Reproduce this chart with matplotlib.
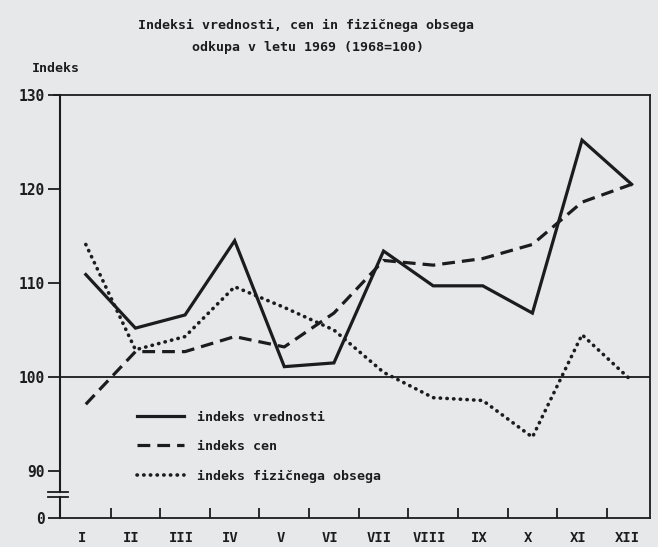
import matplotlib
matplotlib.use("Agg")
from matplotlib import pyplot as plt
import numpy as np

# Indeksi odkupa 1969 (1968=100), odčitano s slike
meseci = ['I', 'II', 'III', 'IV', 'V', 'VI', 'VII', 'VIII', 'IX', 'X', 'XI', 'XII']
vrednost = [110.9, 105.2, 106.6, 114.5, 101.1, 101.5, 113.4, 109.7, 109.7, 106.8, 125.2, 120.5]
cene = [97.1, 102.7, 102.7, 104.3, 103.2, 106.8, 112.4, 111.9, 112.6, 114.1, 118.6, 120.5]
obseg = [114.1, 102.9, 104.3, 109.6, 107.4, 105.0, 100.5, 97.8, 97.5, 93.6, 104.5, 99.6]

ytick_pos = [85, 90, 100, 110, 120, 130]
ytick_lab = ['0', '90', '100', '110', '120', '130']

bg = '#e7e8ea'
ink = '#1c1c1c'
plt.rcParams['font.family'] = ['DejaVu Sans Mono']
plt.rcParams['font.weight'] = 'bold'

fig = plt.figure(figsize=(6.58, 5.47), dpi=100, facecolor=bg)
ax = fig.add_axes([60 / 658, 29 / 547, 590 / 658, 423 / 547])
ax.set_facecolor(bg)

x = np.arange(len(meseci))
ax.plot(x, vrednost, color=ink, lw=2.3, solid_joinstyle='miter', label='indeks vrednosti')
ax.plot(x, cene, color=ink, lw=2.3, dashes=(4, 2.2), label='indeks cen')
ax.plot(x, obseg, color=ink, lw=2.6, linestyle=(0, (0.1, 1.75)),
        dash_capstyle='round', label='indeks fizičnega obsega')

ax.axhline(100, color=ink, lw=1.3)

ax.set_xlim(-0.52, 11.37)
ax.set_ylim(85, 130)

# prekinjena os y
ax.spines['left'].set_visible(False)
for s in ['top', 'right', 'bottom']:
    ax.spines[s].set_linewidth(1.3)
    ax.spines[s].set_color(ink)
tr = ax.get_yaxis_transform()
ax.plot([0, 0], [87.8, 130], color=ink, lw=1.5, transform=tr, clip_on=False)
ax.plot([0, 0], [85, 87.2], color=ink, lw=1.5, transform=tr, clip_on=False)
ax.plot([-0.01, 0], [130, 130], color=ink, lw=1.3, transform=tr, clip_on=False)
for yb in [87.2, 87.8]:
    ax.plot([-0.02, 0.014], [yb, yb], color=ink, lw=1.3, transform=tr, clip_on=False)

ax.set_yticks(ytick_pos)
ax.set_yticklabels(ytick_lab)
ax.tick_params(axis='y', direction='out', length=9, width=1.3, color=ink,
               labelsize=10.5, pad=2, labelcolor=ink)

ax.set_xticks(x[:-1] + 0.5)
ax.set_xticklabels([])
ax.set_xticks(x - 0.08, minor=True)
ax.set_xticklabels(meseci, minor=True)
ax.tick_params(axis='x', which='major', direction='in', length=7, width=1.3, color=ink)
ax.tick_params(axis='x', which='minor', length=0, labelsize=10, pad=9, labelcolor=ink)

ax.legend(loc='upper left', bbox_to_anchor=(130 / 658, 1 - 404 / 547),
          bbox_transform=fig.transFigure, frameon=False, fontsize=9.5,
          handlelength=3.6, handletextpad=1.0, labelspacing=1.25,
          borderpad=0, labelcolor=ink)

fig.text(306 / 658, 1 - 25 / 547, 'Indeksi vrednosti, cen in fizičnega obsega',
         ha='center', va='center', fontsize=9.5, color=ink)
fig.text(308 / 658, 1 - 47 / 547, 'odkupa v letu 1969 (1968=100)',
         ha='center', va='center', fontsize=9.5, color=ink)
fig.text(32 / 658, 1 - 68 / 547, 'Indeks', ha='left', va='center',
         fontsize=9.5, color=ink)

fig.savefig('out.png', dpi=100, facecolor=bg)
